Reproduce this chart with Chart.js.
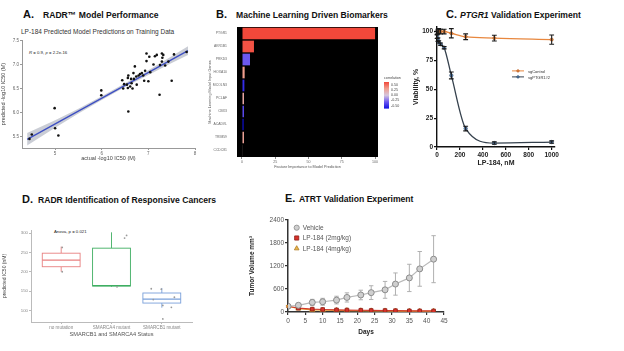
<!DOCTYPE html>
<html>
<head>
<meta charset="utf-8">
<script src="https://cdn.jsdelivr.net/npm/chart.js@4.4.0/dist/chart.umd.min.js"></script>
<style>
  body { margin: 0; width: 624px; height: 351px; background: #fff; position: relative; overflow: hidden;
         font-family: "Liberation Sans", Arial, sans-serif; }
  .box { position: absolute; }
  .t { position: absolute; white-space: nowrap; line-height: 1; font-weight: bold; color: #111; }
  .big { font-size: 11px; }
  .mid { font-size: 8.6px; }
  .note { position: absolute; white-space: nowrap; line-height: 1; color: #222; }
</style>
</head>
<body>
<!-- panel titles -->
<div class="t big" style="left:23px;top:8.7px">A.</div>
<div class="t mid" style="left:43px;top:11px">RADR™ Model Performance</div>
<div class="note" style="left:21px;top:28.5px;font-size:6.5px;color:#333">LP-184 Predicted Model Predictions on Training Data</div>
<div class="note" style="left:29px;top:51px;font-size:4.3px"><i>R</i> = 0.9, <i>p</i> = 2.2e-16</div>

<div class="t big" style="left:216px;top:8.5px">B.</div>
<div class="t mid" style="left:236px;top:11px">Machine Learning Driven Biomarkers</div>

<div class="t big" style="left:446px;top:8.8px">C.</div>
<div class="t mid" style="left:460px;top:11px"><i>PTGR1</i> Validation Experiment</div>

<div class="t big" style="left:22px;top:193.8px">D.</div>
<div class="t mid" style="left:38px;top:196px">RADR Identification of Responsive Cancers</div>
<div class="note" style="left:54px;top:230px;font-size:4.3px">Anova, p = 0.021</div>

<div class="t big" style="left:285px;top:193px">E.</div>
<div class="t mid" style="left:299px;top:195px">ATRT Validation Experiment</div>

<div class="box" style="left:0;top:36px;width:205px;height:128px"><canvas id="chartA"></canvas></div>
<div class="box" style="left:208px;top:22px;width:210px;height:148px"><canvas id="chartB"></canvas></div>
<div class="box" style="left:410px;top:22px;width:214px;height:145px"><canvas id="chartC"></canvas></div>
<div class="box" style="left:0;top:222px;width:210px;height:118px"><canvas id="chartD"></canvas></div>
<div class="box" style="left:240px;top:212px;width:225px;height:130px"><canvas id="chartE"></canvas></div>

<script>
// ---- A: actual vs predicted -log10 IC50
const actualA = [4.45, 4.5, 4.99, 5.0, 5.07, 5.99, 5.99, 6.57, 6.44, 6.46, 6.54, 6.56, 6.57, 6.61, 6.64, 6.63,
  6.66, 6.68, 6.69, 6.71, 6.74, 6.75, 6.79, 6.82, 6.86, 6.89, 6.91, 6.93, 6.96, 7.02, 6.96, 7.0, 7.04, 7.11,
  7.14, 7.18, 7.24, 7.25, 7.29, 7.3, 7.29, 7.32, 7.36, 7.43, 7.5, 7.55, 7.82, 6.56, 6.48];
const predA = [5.46, 5.55, 6.1, 5.68, 5.53, 6.47, 6.37, 6.03, 6.68, 6.51, 6.59, 6.73, 6.78, 6.55, 6.62, 6.71,
  6.51, 6.83, 6.71, 6.97, 6.76, 6.59, 6.78, 6.81, 6.83, 6.78, 6.67, 6.88, 7.08, 7.17, 7.24, 6.66, 6.85, 7.01,
  7.18, 7.21, 6.38, 7.0, 7.07, 7.15, 7.24, 7.21, 6.99, 7.07, 6.67, 7.22, 7.27, 6.52, 6.6];
const fitX = [4.4, 7.85];
const fitY = [5.45, 7.3];
const bandX = [4.4, 5.0, 5.5, 6.0, 6.5, 7.0, 7.5, 7.85];
const bandHi = [5.58, 5.85, 6.09, 6.35, 6.62, 6.89, 7.18, 7.39];
const bandLo = [5.32, 5.69, 5.99, 6.27, 6.54, 6.79, 7.04, 7.21];

// ---- B: feature importance
const genesB = ['PTGR1', 'AKR1B1', 'PRKD3', 'HOXA10', 'MCOLN3', 'PCLAF', 'CBX3', 'ACADVL', 'TRIM59', 'CCDC81'];
const importanceB = [100, 9, 6, 2, 1.8, 1.5, 1.5, 1.2, 1.5, 0.3];
const corrB = [0.5, 0.47, -0.25, 0.25, -0.4, 0.18, -0.3, -0.5, 0.22, 0.05];
const corrTicks = [0.5, 0.25, 0, -0.25, -0.5];

// ---- C: viability vs LP-184 dose
const doseC = [1, 7.8, 15.6, 31.25, 62.5, 125, 250, 500, 1000];
const ctrlC = [99, 100, 100.5, 100, 100, 98.5, 95.5, 94.3, 93];
const ctrlErrC = [1.5, 2, 2, 2, 2, 4, 2.5, 2.5, 4];
const ptgrC = [95.5, 93, 91, 89, 86, 62, 16, 3.4, 4.3];
const ptgrErrC = [1.5, 1.5, 1, 1, 1, 3, 2, 1, 1];

// ---- D: predicted IC50 by mutation status
const groupsD = ['no mutation', 'SMARCA4 mutant', 'SMARCB1 mutant'];
const q1D = [213, 163, 119];
const medD = [230, 164, 129];
const q3D = [248, 261, 145];
const loD = [200, 161, 107];
const hiD = [265, 302, 158];
const ptsXD = [0.02, 0.02, 1.3, 1.26, 1.11, 1.79, 1.99, 2.02, 2.19, 2.25, 2.02, 1.83];
const ptsYD = [263, 200, 294, 287, 161, 156, 155, 113, 108, 134, 78, 128];

// ---- E: tumour volume
const daysE = [0, 3, 7, 10, 14, 17, 21, 24, 28, 31, 35, 38, 42];
const vehE = [150, 175, 250, 267, 311, 380, 444, 505, 578, 729, 889, 1125, 1378];
const vehErrE = [20, 50, 80, 90, 100, 120, 125, 180, 220, 290, 356, 453, 613];
const lp2E = [150, 100, 75, 65, 55, 50, 45, 40, 38, 35, 30, 28, 28];
const lp2ErrE = [20, 15, 12, 10, 10, 10, 8, 8, 8, 8, 6, 6, 6];
const lp4E = [150, 90, 55, 48, 42, 38, 33, 30, 28, 25, 22, 20, 20];
const lp4ErrE = [20, 15, 10, 8, 8, 8, 6, 6, 6, 6, 5, 5, 5];

Chart.defaults.font.family = '"Liberation Sans", Arial, sans-serif';
Chart.defaults.animation = false;
Chart.defaults.responsive = true;
Chart.defaults.maintainAspectRatio = false;
Chart.defaults.plugins.legend.display = false;
Chart.defaults.plugins.tooltip.enabled = false;

const fixW = w => s => { s.width = w; };
const fixH = h => s => { s.height = h; };
const fixTicks = vals => s => { s.ticks = vals.map(v => ({ value: v })); };
const plain = v => String(v);
const pts = (xs, ys) => xs.map((x, i) => ({ x, y: ys[i] }));

function mix(a, b, t) { return a.map((v, i) => Math.round(v + (b[i] - v) * t)); }
const corrStops = [[-0.5, [16, 16, 226]], [-0.25, [108, 88, 240]], [0, [214, 198, 222]],
                   [0.25, [240, 158, 142]], [0.5, [242, 72, 58]]];
function corrColor(c) {
  for (let i = 1; i < corrStops.length; i++) {
    if (c <= corrStops[i][0]) {
      const [c0, a] = corrStops[i - 1], [c1, b] = corrStops[i];
      return 'rgb(' + mix(a, b, (c - c0) / (c1 - c0)).join(',') + ')';
    }
  }
  return 'rgb(' + corrStops[corrStops.length - 1][1].join(',') + ')';
}

// error bars, drawn under (default) or over the points
function drawErrors(chart, top) {
  const { ctx, scales: { y } } = chart;
  chart.data.datasets.forEach((ds, i) => {
    if (!ds.errors || !!ds.errorsOnTop !== top) return;
    const meta = chart.getDatasetMeta(i);
    ctx.save();
    ctx.strokeStyle = ds.errorColor;
    ctx.lineWidth = ds.errorWidth || 1;
    meta.data.forEach((pt, j) => {
      const v = ds.data[j].y, e = ds.errors[j], w = ds.capWidth;
      const t = y.getPixelForValue(v + e), b = y.getPixelForValue(v - e);
      ctx.beginPath();
      ctx.moveTo(pt.x, t); ctx.lineTo(pt.x, b);
      ctx.moveTo(pt.x - w, t); ctx.lineTo(pt.x + w, t);
      ctx.moveTo(pt.x - w, b); ctx.lineTo(pt.x + w, b);
      ctx.stroke();
    });
    ctx.restore();
  });
}
const errorBars = {
  id: 'errorBars',
  beforeDatasetsDraw(chart) { drawErrors(chart, false); },
  afterDatasetsDraw(chart) { drawErrors(chart, true); }
};

function marker(ctx, style, x, y, r) {
  ctx.beginPath();
  if (style === 'rect') ctx.rect(x - r * 0.8, y - r * 0.8, r * 1.6, r * 1.6);
  else if (style === 'triangle') { ctx.moveTo(x, y - r); ctx.lineTo(x + r * 0.9, y + r * 0.6); ctx.lineTo(x - r * 0.9, y + r * 0.6); ctx.closePath(); }
  else ctx.arc(x, y, r, 0, Math.PI * 2);
  ctx.fill(); ctx.stroke();
}

// legend inside the plot area
const inLegend = {
  id: 'inLegend',
  afterDraw(chart, args, o) {
    if (!o.dx) return;
    const { ctx, chartArea: a } = chart;
    ctx.save();
    ctx.font = o.font; ctx.textBaseline = 'middle';
    chart.data.datasets.forEach((ds, i) => {
      const x = a.left + o.dx, y = a.top + o.dy + i * o.gap;
      if (o.line) {
        ctx.strokeStyle = ds.borderColor; ctx.lineWidth = 1;
        ctx.beginPath(); ctx.moveTo(x - o.line, y); ctx.lineTo(x + o.line, y); ctx.stroke();
      }
      ctx.fillStyle = ds.pointBackgroundColor || ds.backgroundColor;
      ctx.strokeStyle = ds.pointBorderColor || ds.borderColor; ctx.lineWidth = 0.8;
      marker(ctx, ds.pointStyle, x, y, o.r);
      ctx.fillStyle = o.color;
      ctx.fillText(ds.label, x + o.textDx, y + 0.5);
    });
    ctx.restore();
  }
};

// ---- A
new Chart(document.getElementById('chartA'), {
  type: 'scatter',
  data: {
    datasets: [
      { data: pts(actualA, predA), backgroundColor: '#111', pointRadius: 1.3, borderWidth: 0, order: 0 },
      { data: pts(fitX, fitY), showLine: true, borderColor: '#3e4fc4', borderWidth: 1.3, pointRadius: 0, order: 1 },
      { data: pts(bandX, bandHi), showLine: true, borderWidth: 0, pointRadius: 0, fill: '+1',
        backgroundColor: 'rgba(150,156,172,0.5)', order: 2 },
      { data: pts(bandX, bandLo), showLine: true, borderWidth: 0, pointRadius: 0, order: 3 }
    ]
  },
  options: {
    layout: { padding: { left: 0, right: 10, top: 2, bottom: 2 } },
    scales: {
      x: {
        min: 4.29, max: 8, afterBuildTicks: fixTicks([5, 6, 7, 8]), afterFit: fixH(14),
        ticks: { font: { size: 4.5 }, color: '#666', padding: 1, callback: plain },
        grid: { drawOnChartArea: false, tickLength: 2, color: '#999' }, border: { color: '#999' },
        title: { display: true, text: 'actual -log10 IC50 (M)', font: { size: 5.5 }, color: '#444', padding: 0 }
      },
      y: {
        min: 5.27, max: 7.52, afterBuildTicks: fixTicks([5.5, 6, 6.5, 7, 7.5]), afterFit: fixW(22),
        ticks: { font: { size: 4.5 }, color: '#666', padding: 1, callback: v => v.toFixed(1) },
        grid: { drawOnChartArea: false, tickLength: 2, color: '#999' }, border: { color: '#999' },
        title: { display: true, text: 'predicted -log10 IC50 (M)', font: { size: 5.5 }, color: '#444', padding: 0 }
      }
    }
  }
});

// ---- B
const blackArea = {
  id: 'blackArea',
  beforeDatasetsDraw(chart) {
    const { ctx, chartArea: a } = chart;
    ctx.save(); ctx.fillStyle = '#000';
    ctx.fillRect(a.left, a.top, a.right - a.left, a.bottom - a.top);
    ctx.restore();
  }
};
const colorBar = {
  id: 'colorBar',
  afterDraw(chart) {
    const { ctx, chartArea: a } = chart;
    const x = a.right + 6, y0 = a.top + 55, h = 26.6, w = 5;
    const g = ctx.createLinearGradient(0, y0, 0, y0 + h);
    corrStops.forEach(([c, rgb]) => g.addColorStop((0.5 - c) / 1, 'rgb(' + rgb.join(',') + ')'));
    ctx.save();
    ctx.fillStyle = g; ctx.fillRect(x, y0, w, h);
    ctx.fillStyle = '#444'; ctx.font = '3.6px "Liberation Sans", Arial';
    ctx.textBaseline = 'alphabetic';
    ctx.fillText('correlation', x, y0 - 3);
    ctx.textBaseline = 'middle';
    corrTicks.forEach(c => ctx.fillText(c.toFixed(2), x + w + 2, y0 + 3 + (0.5 - c) / 1 * (h - 6)));
    ctx.restore();
  }
};
new Chart(document.getElementById('chartB'), {
  type: 'bar',
  data: {
    labels: genesB,
    datasets: [{ data: importanceB, backgroundColor: corrB.map(corrColor), borderWidth: 0,
                 barPercentage: 0.9, categoryPercentage: 1 }]
  },
  options: {
    indexAxis: 'y',
    layout: { padding: { left: 0, right: 40, top: 5, bottom: 0 } },
    scales: {
      x: {
        min: -3.75, max: 102.2, afterBuildTicks: fixTicks([0, 25, 50, 75, 100]), afterFit: fixH(13),
        ticks: { font: { size: 3.6 }, color: '#666', padding: 1, callback: plain },
        grid: { drawOnChartArea: false, tickLength: 2, color: '#888' }, border: { display: false },
        title: { display: true, text: 'Feature Importance to Model Prediction', font: { size: 3.8 }, color: '#555', padding: 1 }
      },
      y: {
        afterFit: fixW(29),
        ticks: { font: { size: 3.4 }, color: '#666', padding: 2 },
        grid: { display: false }, border: { display: false },
        title: { display: true, text: 'Machine Learning Model Input Genes', font: { size: 3.8 }, color: '#555', padding: 0 }
      }
    }
  },
  plugins: [blackArea, colorBar]
});

// ---- C
new Chart(document.getElementById('chartC'), {
  type: 'line',
  data: {
    datasets: [
      { label: 'sgControl', data: pts(doseC, ctrlC), borderColor: '#e8873e', backgroundColor: '#ec8c40',
        pointBorderColor: '#b9612a', borderWidth: 1.3, pointRadius: 1.6, pointBorderWidth: 0.6,
        cubicInterpolationMode: 'monotone', errors: ctrlErrC, errorColor: '#1a1a1a', errorWidth: 1.1,
        capWidth: 2.4, errorsOnTop: true },
      { label: 'sgPTGR1#2', data: pts(doseC, ptgrC), borderColor: '#35414d', backgroundColor: '#5d8ac0',
        pointBorderColor: '#2f4a66', borderWidth: 1.3, pointRadius: 1.7, pointBorderWidth: 0.6,
        cubicInterpolationMode: 'monotone', errors: ptgrErrC, errorColor: '#1a1a1a', errorWidth: 1.1,
        capWidth: 2.4, errorsOnTop: true }
    ]
  },
  options: {
    layout: { padding: { left: 0, right: 69, top: 3, bottom: 0 } },
    scales: {
      x: {
        type: 'linear', min: 0, max: 1029, afterBuildTicks: fixTicks([0, 200, 400, 600, 800, 1000]), afterFit: fixH(20),
        ticks: { font: { size: 6.5, weight: 'bold' }, color: '#222', padding: 1, callback: plain },
        grid: { drawOnChartArea: false, tickLength: 3, color: '#111', lineWidth: 1.2 },
        border: { color: '#111', width: 1.4 },
        title: { display: true, text: 'LP-184, nM', font: { size: 7, weight: 'bold' }, color: '#222', padding: 0 }
      },
      y: {
        min: 0, max: 104, afterBuildTicks: fixTicks([0, 25, 50, 75, 100]), afterFit: fixW(27),
        ticks: { font: { size: 6.5, weight: 'bold' }, color: '#222', padding: 1, callback: plain },
        grid: { drawOnChartArea: false, tickLength: 3, color: '#111', lineWidth: 1.2 },
        border: { color: '#111', width: 1.4 },
        title: { display: true, text: 'Viability, %', font: { size: 7, weight: 'bold' }, color: '#222', padding: 2 }
      }
    },
    plugins: { inLegend: { dx: 81, dy: 44, gap: 6, line: 6, r: 1.2, textDx: 10, font: '4px "Liberation Sans", Arial', color: '#333' } }
  },
  plugins: [errorBars, inLegend]
});

// ---- D
const boxPlot = {
  id: 'boxPlot',
  beforeDatasetsDraw(chart, args, o) {
    const { ctx, scales: { x, y } } = chart;
    ctx.save();
    q1D.forEach((q1, i) => {
      const cx = x.getPixelForValue(i), hw = x.getPixelForValue(i + o.half) - cx;
      const yq1 = y.getPixelForValue(q1), yq3 = y.getPixelForValue(q3D[i]);
      ctx.strokeStyle = o.colors[i]; ctx.lineWidth = 0.9;
      ctx.beginPath();
      ctx.moveTo(cx, yq3); ctx.lineTo(cx, y.getPixelForValue(hiD[i]));
      ctx.moveTo(cx, yq1); ctx.lineTo(cx, y.getPixelForValue(loD[i]));
      ctx.stroke();
      ctx.fillStyle = '#fff';
      ctx.fillRect(cx - hw, yq3, hw * 2, yq1 - yq3);
      ctx.strokeRect(cx - hw, yq3, hw * 2, yq1 - yq3);
      ctx.lineWidth = 1.3;
      ctx.beginPath();
      const ym = y.getPixelForValue(medD[i]);
      ctx.moveTo(cx - hw, ym); ctx.lineTo(cx + hw, ym);
      ctx.stroke();
    });
    ctx.restore();
  }
};
new Chart(document.getElementById('chartD'), {
  type: 'scatter',
  data: { datasets: [{ data: pts(ptsXD, ptsYD), backgroundColor: '#9a9a9a', pointRadius: 0.9, borderWidth: 0 }] },
  options: {
    layout: { padding: { left: 0, right: 18, top: 8, bottom: 2 } },
    scales: {
      x: {
        min: -0.6, max: 2.6, afterBuildTicks: fixTicks([0, 1, 2]), afterFit: fixH(16),
        ticks: { font: { size: 4.6 }, color: '#888', padding: 1, callback: v => groupsD[v] },
        grid: { drawOnChartArea: false, tickLength: 2, color: '#bbb' }, border: { color: '#bbb' },
        title: { display: true, text: 'SMARCB1 and SMARCA4 Status', font: { size: 5.6 }, color: '#555', padding: 0 }
      },
      y: {
        min: 70, max: 308, afterBuildTicks: fixTicks([100, 150, 200, 250, 300]), afterFit: fixW(31),
        ticks: { font: { size: 4.3 }, color: '#888', padding: 1, callback: plain },
        grid: { drawOnChartArea: false, tickLength: 2, color: '#bbb' }, border: { color: '#bbb' },
        title: { display: true, text: 'predicted IC50 (nM)', font: { size: 5 }, color: '#444', padding: 2 }
      }
    },
    plugins: { boxPlot: { half: 0.376, colors: ['#e88080', '#3fae62', '#7aa0da'] } }
  },
  plugins: [boxPlot]
});

// ---- E
new Chart(document.getElementById('chartE'), {
  type: 'line',
  data: {
    datasets: [
      { label: 'Vehicle', data: pts(daysE, vehE), borderColor: '#b8b8b8', pointBackgroundColor: '#cfcfcf',
        pointBorderColor: '#8c8c8c', borderWidth: 1.2, pointRadius: 3, pointBorderWidth: 1,
        errors: vehErrE, errorColor: '#b0b0b0', capWidth: 2.2 },
      { label: 'LP-184 (2mg/kg)', data: pts(daysE, lp2E), borderColor: '#d2392b', pointBackgroundColor: '#d8322a',
        pointBorderColor: '#8d2019', pointStyle: 'rect', borderWidth: 1.2, pointRadius: 2.6, pointBorderWidth: 0.8,
        errors: lp2ErrE, errorColor: '#c04030', capWidth: 2 },
      { label: 'LP-184 (4mg/kg)', data: pts(daysE, lp4E), borderColor: '#e8a53a', pointBackgroundColor: '#ebb84e',
        pointBorderColor: '#b07a20', pointStyle: 'triangle', borderWidth: 1.2, pointRadius: 3, pointBorderWidth: 0.8,
        errors: lp4ErrE, errorColor: '#d09030', capWidth: 2 }
    ]
  },
  options: {
    layout: { padding: { left: 0, right: 21, top: 8, bottom: 4 } },
    scales: {
      x: {
        type: 'linear', min: 0, max: 45, afterBuildTicks: fixTicks([0, 5, 10, 15, 20, 25, 30, 35, 40, 45]), afterFit: fixH(26),
        ticks: { font: { size: 6.5 }, color: '#555', padding: 2, callback: plain },
        grid: { drawOnChartArea: false, tickLength: 3, color: '#333', lineWidth: 1.2 },
        border: { color: '#333', width: 1.5 },
        title: { display: true, text: 'Days', font: { size: 6.5, weight: 'bold' }, color: '#222', padding: 2 }
      },
      y: {
        min: 0, max: 2400, afterBuildTicks: fixTicks([0, 600, 1200, 1800, 2400]), afterFit: fixW(48),
        ticks: { font: { size: 6.5 }, color: '#555', padding: 1, callback: plain },
        grid: { drawOnChartArea: false, tickLength: 3, color: '#333', lineWidth: 1.2 },
        border: { color: '#333', width: 1.5 },
        title: { display: true, text: 'Tumor Volume mm³', font: { size: 6.5, weight: 'bold' }, color: '#222', padding: 8 }
      }
    },
    plugins: { inLegend: { dx: 8.7, dy: 7.7, gap: 10.3, r: 2.6, textDx: 6, font: '6.5px "Liberation Sans", Arial', color: '#555' } }
  },
  plugins: [errorBars, inLegend]
});
</script>
</body>
</html>
